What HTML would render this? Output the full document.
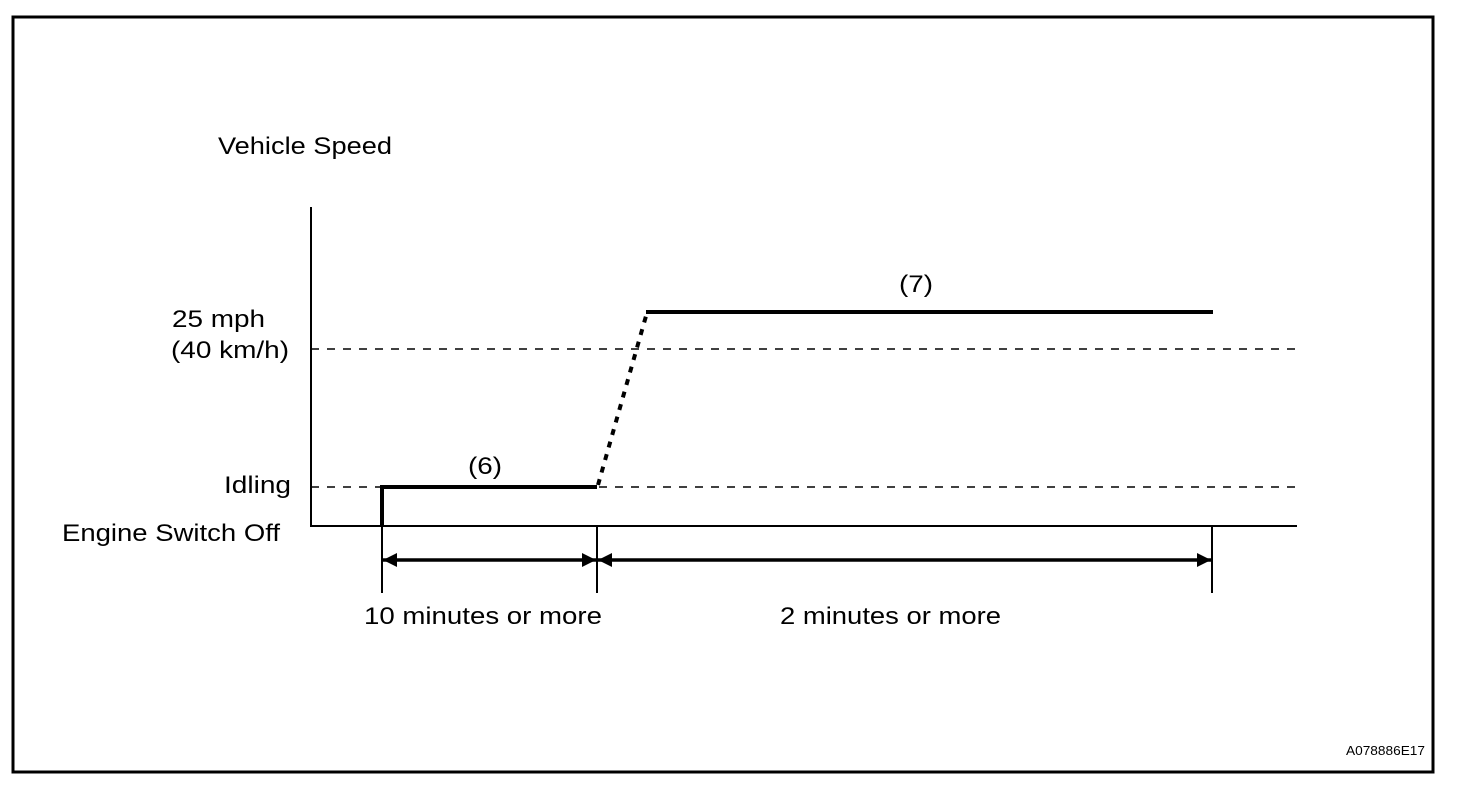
<!DOCTYPE html>
<html><head><style>
html,body{margin:0;padding:0;background:#fff;}
svg text{font-family:"Liberation Sans",Arial,sans-serif;fill:#000;}
</style></head><body>
<svg width="1472" height="782" viewBox="0 0 1472 782" xmlns="http://www.w3.org/2000/svg">
<defs>
<marker id="a" viewBox="0 0 10 10" refX="10" refY="5" markerWidth="5" markerHeight="4" orient="auto-start-reverse" markerUnits="strokeWidth"><path d="M0,0 L10,5 L0,10 z" fill="#000"/></marker>
</defs>
<rect x="13" y="17" width="1420" height="755" fill="none" stroke="#000" stroke-width="3"/>
<g font-size="24" lengthAdjust="spacingAndGlyphs">
<text x="218" y="154" textLength="174" lengthAdjust="spacingAndGlyphs">Vehicle Speed</text>
<text x="172" y="327" textLength="93" lengthAdjust="spacingAndGlyphs">25 mph</text>
<text x="171" y="358" textLength="118" lengthAdjust="spacingAndGlyphs">(40 km/h)</text>
<text x="224" y="493" textLength="67" lengthAdjust="spacingAndGlyphs">Idling</text>
<text x="62" y="541" textLength="218" lengthAdjust="spacingAndGlyphs">Engine Switch Off</text>
<text x="468" y="474" textLength="34" lengthAdjust="spacingAndGlyphs">(6)</text>
<text x="899" y="292" textLength="34" lengthAdjust="spacingAndGlyphs">(7)</text>
<text x="364" y="624" textLength="238" lengthAdjust="spacingAndGlyphs">10 minutes or more</text>
<text x="780" y="624" textLength="221" lengthAdjust="spacingAndGlyphs">2 minutes or more</text>
</g>
<text x="1346" y="755" font-size="13" textLength="79" lengthAdjust="spacingAndGlyphs">A078886E17</text>
<line x1="311" y1="207" x2="311" y2="527" stroke="#000" stroke-width="2"/>
<line x1="310" y1="526" x2="1297" y2="526" stroke="#000" stroke-width="2"/>
<line x1="311" y1="349" x2="1297" y2="349" stroke="#000" stroke-width="1.5" stroke-dasharray="8,8"/>
<line x1="311" y1="487" x2="1297" y2="487" stroke="#000" stroke-width="1.5" stroke-dasharray="8,8"/>
<polyline points="382,526 382,487 597,487" fill="none" stroke="#000" stroke-width="4"/>
<line x1="598" y1="485" x2="646" y2="316" stroke="#000" stroke-width="4" stroke-dasharray="6,7"/>
<line x1="646" y1="312" x2="1213" y2="312" stroke="#000" stroke-width="4"/>
<line x1="382" y1="526" x2="382" y2="593" stroke="#000" stroke-width="2"/>
<line x1="597" y1="526" x2="597" y2="593" stroke="#000" stroke-width="2"/>
<line x1="1212" y1="526" x2="1212" y2="593" stroke="#000" stroke-width="2"/>
<line x1="383" y1="560" x2="596" y2="560" stroke="#000" stroke-width="3.5" marker-start="url(#a)" marker-end="url(#a)"/>
<line x1="598" y1="560" x2="1211" y2="560" stroke="#000" stroke-width="3.5" marker-start="url(#a)" marker-end="url(#a)"/>
</svg>
</body></html>
